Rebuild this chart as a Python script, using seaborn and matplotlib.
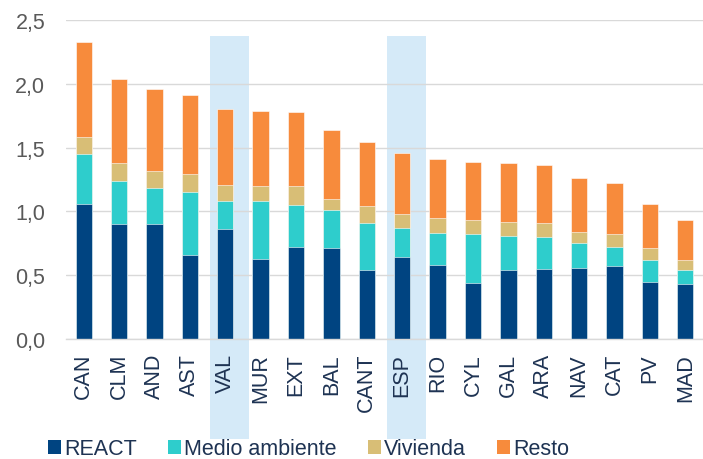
import pandas as pd
import matplotlib
matplotlib.use("Agg")
import matplotlib.pyplot as plt
import seaborn as sns
from matplotlib.patches import Rectangle, Patch
from matplotlib.ticker import FuncFormatter

REGIONS = ["CAN", "CLM", "AND", "AST", "VAL", "MUR", "EXT", "BAL", "CANT",
           "ESP", "RIO", "CYL", "GAL", "ARA", "NAV", "CAT", "PV", "MAD"]
REACT = [1.06, 0.90, 0.90, 0.66, 0.86, 0.63, 0.72, 0.71, 0.54,
         0.64, 0.58, 0.44, 0.54, 0.55, 0.56, 0.57, 0.45, 0.43]
MEDIO_AMBIENTE = [0.39, 0.34, 0.28, 0.49, 0.22, 0.45, 0.33, 0.30, 0.37,
                  0.23, 0.25, 0.38, 0.27, 0.25, 0.19, 0.15, 0.17, 0.11]
VIVIENDA = [0.13, 0.14, 0.14, 0.14, 0.13, 0.12, 0.15, 0.09, 0.13,
            0.11, 0.12, 0.11, 0.11, 0.11, 0.09, 0.10, 0.09, 0.08]
RESTO = [0.75, 0.66, 0.64, 0.62, 0.59, 0.59, 0.58, 0.54, 0.50,
         0.48, 0.46, 0.46, 0.46, 0.45, 0.42, 0.40, 0.35, 0.31]
HIGHLIGHT = ["VAL", "ESP"]

SERIES = ["REACT", "Medio ambiente", "Vivienda", "Resto"]
COLORS = ["#004481", "#2ECDCC", "#D8BE76", "#F78B3C"]
GREY = "#595959"
NAVY_TEXT = "#1E3353"

df = pd.DataFrame({"region": REGIONS, "REACT": REACT, "Medio ambiente": MEDIO_AMBIENTE,
                   "Vivienda": VIVIENDA, "Resto": RESTO})
# cumulative tops for stacking (draw tallest first)
cum = df[SERIES].cumsum(axis=1)

sns.set_style("white")
plt.rcParams["font.family"] = ["Liberation Sans", "DejaVu Sans"]

fig = plt.figure(figsize=(7.03, 4.6), dpi=100)
ax = fig.add_axes([66 / 703, 1 - 340 / 460, 1 - 66 / 703, (340 - 21) / 460])

# highlighted columns
for name in HIGHLIGHT:
    i = REGIONS.index(name)
    ax.add_patch(Rectangle((i - 0.43, -0.78), 1.1, 2.375 + 0.78, facecolor="#D5EAF8",
                           edgecolor="none", zorder=0, clip_on=False))

for s, c in reversed(list(zip(SERIES, COLORS))):
    sns.barplot(x=df["region"], y=cum[s], color=c, width=0.46, ax=ax,
                saturation=1, edgecolor="white", linewidth=0.4, zorder=2)

ax.set_xlim(-0.5, len(REGIONS) - 0.5)
ax.set_ylim(0, 2.5)
ax.set_yticks([0, 0.5, 1.0, 1.5, 2.0, 2.5])
ax.yaxis.set_major_formatter(FuncFormatter(lambda v, p: f"{v:.1f}".replace(".", ",")))
ax.set_axisbelow(True)
ax.grid(axis="y", color="#D9D9D9", linewidth=1)
ax.set_xlabel("")
ax.set_ylabel("")

for side in ["top", "right", "left"]:
    ax.spines[side].set_visible(False)
ax.spines["bottom"].set_color("#D9D9D9")
ax.spines["bottom"].set_linewidth(1)

ax.set_xticks(range(len(REGIONS)))
ax.set_xticklabels(REGIONS, rotation=90)
ax.set_xticks([i - 0.5 for i in range(len(REGIONS))], minor=True)
ax.tick_params(axis="x", which="major", length=0, labelsize=15.5, labelcolor=NAVY_TEXT, pad=10)
ax.tick_params(axis="x", which="minor", length=6, color="#D9D9D9", width=1)
ax.tick_params(axis="y", length=0, labelsize=15.5, labelcolor=GREY, pad=15)

handles = [Patch(facecolor=c, edgecolor="none") for c in COLORS]
fig.legend(handles, SERIES, loc="center left", bbox_to_anchor=(48 / 703, 1 - 450 / 460),
           ncol=4, frameon=False, fontsize=15.5, labelcolor=NAVY_TEXT,
           handlelength=0.6, handleheight=0.6, handletextpad=0.15,
           columnspacing=1.45, borderaxespad=0, borderpad=0)

fig.savefig("out.png", dpi=100)
